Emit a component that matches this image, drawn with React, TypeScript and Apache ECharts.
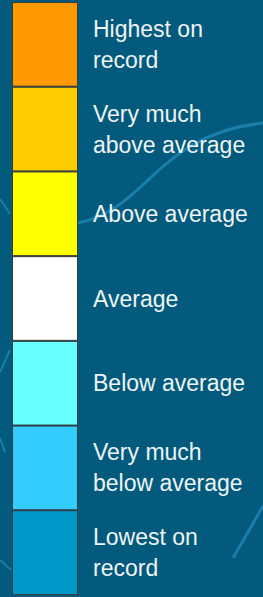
import React, { useEffect, useRef } from "react";
import * as echarts from "echarts";

const categories = [
  "Highest on\nrecord",
  "Very much\nabove average",
  "Above average",
  "Average",
  "Below average",
  "Very much\nbelow average",
  "Lowest on\nrecord",
];
const values = [1, 1, 1, 1, 1, 1, 1];
const colors = ["#FF9900", "#FFCC00", "#FFFF00", "#FFFFFF", "#66FFFF", "#33CCFF", "#0099CC"];

export default function App() {
  const ref = useRef<HTMLDivElement>(null);
  useEffect(() => {
    const chart = echarts.init(ref.current!, null, { renderer: "svg" });
    const deco = "#1a7eaa";
    chart.setOption({
      animation: false,
      backgroundColor: "#035a7c",
      graphic: [
        {
          type: "bezierCurve",
          silent: true,
          z: -10,
          shape: { x1: 78, y1: 223, x2: 263, y2: 123, cpx1: 150, cpy1: 208, cpx2: 155, cpy2: 135 },
          style: { stroke: deco, lineWidth: 3, fill: null },
        },
        {
          type: "line",
          silent: true,
          z: -10,
          shape: { x1: 0, y1: 199, x2: 10, y2: 214 },
          style: { stroke: deco, lineWidth: 2 },
        },
        {
          type: "line",
          silent: true,
          z: -10,
          shape: { x1: 0, y1: 372, x2: 10, y2: 350 },
          style: { stroke: deco, lineWidth: 2 },
        },
        {
          type: "line",
          silent: true,
          z: -10,
          shape: { x1: 233, y1: 558, x2: 263, y2: 506 },
          style: { stroke: deco, lineWidth: 3 },
        },
        {
          type: "line",
          silent: true,
          z: -10,
          shape: { x1: 0, y1: 438, x2: 5, y2: 452 },
          style: { stroke: deco, lineWidth: 2 },
        },
        {
          type: "line",
          silent: true,
          z: -10,
          shape: { x1: 0, y1: 560, x2: 11, y2: 570 },
          style: { stroke: deco, lineWidth: 2 },
        },
      ],
      grid: { left: 12, top: 2, width: 66, height: 593 },
      xAxis: { type: "value", min: 0, max: 1, show: false },
      yAxis: {
        type: "category",
        data: categories,
        inverse: true,
        position: "right",
        axisLine: { show: false },
        axisTick: { show: false },
        splitLine: { show: false },
        axisLabel: {
          margin: 15,
          align: "left",
          color: "#eef4f5",
          fontFamily: "Liberation Sans, Arial, sans-serif",
          fontSize: 23,
          lineHeight: 31,
        },
      },
      series: [
        {
          type: "bar",
          barCategoryGap: 0,
          data: values.map((v, i) => ({
            value: v,
            itemStyle: { color: colors[i], borderColor: "#3a3a3a", borderWidth: 1 },
          })),
        },
      ],
    });
    return () => chart.dispose();
  }, []);
  return (
    <div
      ref={ref}
      style={{ position: "fixed", left: 0, top: 0, width: 263, height: 597 }}
    />
  );
}
